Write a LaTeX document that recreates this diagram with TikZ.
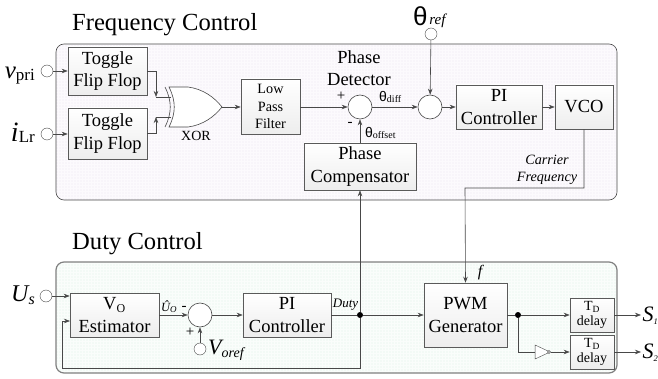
\documentclass[tikz,border=0pt]{standalone}
\usepackage{fontspec}
\setmainfont{Liberation Serif}
\newfontfamily\thetafont{Liberation Sans}
\usetikzlibrary{arrows.meta,shapes.geometric,patterns.meta}
\newcommand{\fsz}[2]{\fontsize{#1}{#2}\selectfont}
\newcommand{\thetasym}[1]{{\thetafont\fsz{#1}{#1}θ}}
\definecolor{wirecol}{HTML}{484848}
\definecolor{edgecol}{HTML}{5A5A5A}
\definecolor{lavback}{HTML}{FCFAFD}
\definecolor{lavdot}{HTML}{EFE8F4}
\definecolor{mintback}{HTML}{FAFDFB}
\definecolor{mintdot}{HTML}{E0F3E8}
\tikzset{
  ctrl/.style={draw=edgecol,semithick,top color=white,bottom color=black!7,inner sep=0pt,align=center,font=\fsz{18.5}{22.5}},
  smallctrl/.style={ctrl,font=\fsz{14}{15}},
  port/.style={circle,draw=wirecol,fill=white,inner sep=0pt,minimum size=12pt},
  sumnode/.style={circle,draw=wirecol,semithick,fill=white,inner sep=0pt,minimum size=24pt},
  sig/.style={draw=wirecol,semithick,-{Stealth[length=6pt,width=4.5pt]}},
  wire/.style={draw=wirecol,semithick},
  lbl/.style={inner sep=0pt,align=center}
}
\begin{document}
\begin{tikzpicture}[x=1pt,y=-1pt]
\useasboundingbox (0,0) rectangle (658,379);

% panels
\path[rounded corners=8pt,fill=lavback] (56,44) rectangle (617,200);
\path[rounded corners=8pt,pattern={Dots[radius=0.7pt,distance=3pt]},pattern color=lavdot] (56,44) rectangle (617,200);
\draw[rounded corners=8pt,draw=wirecol,semithick] (56,44) rectangle (617,200);
\path[rounded corners=8pt,fill=mintback] (56,262) rectangle (617,373);
\path[rounded corners=8pt,pattern={Dots[radius=0.7pt,distance=3pt]},pattern color=mintdot] (56,262) rectangle (617,373);
\draw[rounded corners=8pt,draw=black!50,line width=1.2pt] (56,262) rectangle (617,373);

\node[lbl,font=\fsz{24.6}{26},anchor=base west] (freqtitle) at (72,31) {Frequency Control};
\node[lbl,font=\fsz{24.6}{26},anchor=base west] (dutytitle) at (72,250) {Duty Control};

% frequency control blocks
\node[port] (vpri) at (47,71) {};
\node[port] (ilr) at (47,134) {};
\node[port] (thetaref) at (431,34) {};
\node[ctrl,minimum width=79pt,minimum height=48pt] (toggleA) at (107.5,71) {Toggle\\Flip Flop};
\node[ctrl,minimum width=79pt,minimum height=51pt] (toggleB) at (107.5,133.5) {Toggle\\Flip Flop};
\node[ctrl,font=\fsz{14.2}{17.5},minimum width=59pt,minimum height=55pt] (lowpass) at (270.5,106.5) {Low\\Pass\\Filter};
\node[sumnode] (sumA) at (360,107) {};
\node[sumnode] (sumB) at (430,107) {};
\node[ctrl,minimum width=86pt,minimum height=44pt] (piA) at (499,107) {PI\\Controller};
\node[ctrl,minimum width=58pt,minimum height=44pt] (vco) at (584,107) {VCO};
\node[ctrl,minimum width=112pt,minimum height=47pt] (compens) at (360,166.5) {Phase\\Compensator};

% xor gate
\coordinate (xorA) at (171,97);
\coordinate (xorB) at (171,117);
\coordinate (xorOut) at (222,107);
\coordinate (kneeA) at (156,97);
\coordinate (kneeB) at (156,117);
\draw[wire,fill=white] (169,87) -- (188,87) .. controls (203,89) and (214,97) .. (xorOut) .. controls (214,117) and (203,125) .. (188,127) -- (169,127) .. controls (176,113) and (176,101) .. cycle;
\draw[wire] (165,87) .. controls (172,101) and (172,113) .. (165,127);

\draw[sig] (vpri) -- (toggleA);
\draw[sig] (ilr) -- (ilr -| toggleB.west);
\draw[sig] (toggleA) -| (kneeA);
\draw[sig] (toggleB) -| (kneeB);
\draw[wire] (kneeA) -- (xorA);
\draw[wire] (kneeB) -- (xorB);
\draw[sig] (xorOut) -- (xorOut -| lowpass.west);
\draw[sig] (lowpass.east |- sumA) -- (sumA);
\draw[sig] (sumA) -- (sumB);
\draw[sig] (thetaref) -- (sumB);
\draw[sig] (sumB) -- (sumB -| piA.west);
\draw[sig] (piA) -- (vco);
\draw[sig] (compens) -- (sumA);

% duty control blocks
\node[port] (us) at (46,296) {};
\node[port] (voref) at (200,349) {};
\node[ctrl,minimum width=89pt,minimum height=44pt] (estim) at (114.5,315) {V\textsubscript{\fsz{12}{12}O}\\Estimator};
\node[sumnode] (sumC) at (200,315) {};
\node[ctrl,minimum width=88pt,minimum height=44pt] (piB) at (287,315) {PI\\Controller};
\node[ctrl,minimum width=83pt,minimum height=64pt] (pwm) at (465.5,315) {PWM\\Generator};
\node[smallctrl,minimum width=44pt,minimum height=34pt] (delayA) at (592,315) {T\textsubscript{\fsz{9.5}{9.5}D}\\delay};
\node[smallctrl,minimum width=44pt,minimum height=34pt] (delayB) at (592,352) {T\textsubscript{\fsz{9.5}{9.5}D}\\delay};
\node[isosceles triangle,isosceles triangle stretches,draw=wirecol,fill=white,inner sep=0pt,minimum width=14pt,minimum height=15pt] (inverter) at (539.5,352) {};
\node[circle,draw=wirecol,fill=white,inner sep=0pt,minimum size=3pt] (bubble) at (549,352) {};
\node[circle,fill=black,inner sep=0pt,minimum size=6pt] (dotduty) at (360,315) {};
\node[circle,fill=black,inner sep=0pt,minimum size=6pt] (dotpwm) at (518,315) {};
\coordinate (corner) at (62,368);
\coordinate (fbin) at (70,321);
\coordinate (sout1) at (641,315);
\coordinate (sout2) at (641,352);

\draw[sig] (us) -- (us -| estim.west);
\draw[sig] (estim) -- (sumC);
\draw[sig] (voref) -- (sumC);
\draw[sig] (sumC) -- (piB);
\draw[wire] (piB) -- (dotduty);
\draw[sig] (dotduty) -- (pwm);
\draw[sig] (dotduty) -- (compens);
\draw[sig] (dotduty) |- (corner) |- (fbin);
\draw[wire] (pwm) -- (dotpwm);
\draw[sig] (dotpwm) -- (delayA);
\draw[wire] (dotpwm) |- (inverter.west);
\draw[sig] (bubble) -- (delayB);
\draw[sig] (delayA) -- (sout1);
\draw[sig] (delayB) -- (sout2);
\draw[sig] (vco.south) |- (465,188) -- (pwm.north);

% labels
\node[lbl,anchor=base east] (vprilbl) at (35,79) {\fsz{25}{25}\itshape v\raisebox{-1.5pt}{\fsz{17}{17}\upshape pri}};
\node[lbl,anchor=base east] (ilrlbl) at (35,142) {\fsz{28}{28}\itshape i\raisebox{-1pt}{\fsz{17}{17}\upshape Lr}};
\node[lbl,anchor=base east] (uslbl) at (35,301) {\fsz{24}{24}\itshape U\raisebox{-3pt}{\fsz{16}{16}s}};
\node[lbl,anchor=base west] (reflbl) at (413,26) {\thetasym{26}\,\raisebox{1pt}{\fsz{15}{15}\itshape ref}};
\node[lbl,font=\fsz{18.5}{22}] (detector) at (359,68) {Phase\\Detector};
\node[lbl,font=\fsz{14}{14}] (xorlbl) at (196,136) {XOR};
\node[lbl,anchor=base west] (difflbl) at (379,102) {\thetasym{14}\raisebox{-1pt}{\fsz{10}{10}diff}};
\node[lbl,anchor=base west] (offslbl) at (365,138) {\thetasym{14}\raisebox{-1pt}{\fsz{10}{10}offset}};
\node[lbl,font=\fsz{15}{15}] (pluslbl) at (341,96) {+};
\node[lbl,font=\fsz{15}{15}] (minuslbl) at (350,124) {-};
\node[lbl,font=\fsz{14.2}{17}\itshape] (carrier) at (547,170) {Carrier\\Frequency};
\node[lbl,font=\fsz{16}{16}\itshape] (flbl) at (480,273) {f};
\node[lbl,font=\fsz{13}{13}\itshape] (dutylbl) at (345.5,305) {Duty};
\node[lbl,anchor=base west] (uolbl) at (161,311) {\fsz{12.5}{12.5}\itshape Û\raisebox{-1pt}{\fsz{9}{9}O}};
\node[lbl,font=\fsz{15}{15}] (minusB) at (184,308) {-};
\node[lbl,font=\fsz{15}{15}] (plusB) at (190,332) {+};
\node[lbl,anchor=base west] (voreflbl) at (208,354) {\fsz{22}{22}\itshape V\raisebox{-3pt}{\fsz{14}{14}oref}};
\node[lbl,anchor=base west] (s1lbl) at (642.5,321) {\fsz{22}{22}\itshape S\raisebox{-3pt}{\fsz{8.5}{8.5}1}};
\node[lbl,anchor=base west] (s2lbl) at (642.5,358) {\fsz{22}{22}\itshape S\raisebox{-3pt}{\fsz{8.5}{8.5}2}};
\end{tikzpicture}
\end{document}
